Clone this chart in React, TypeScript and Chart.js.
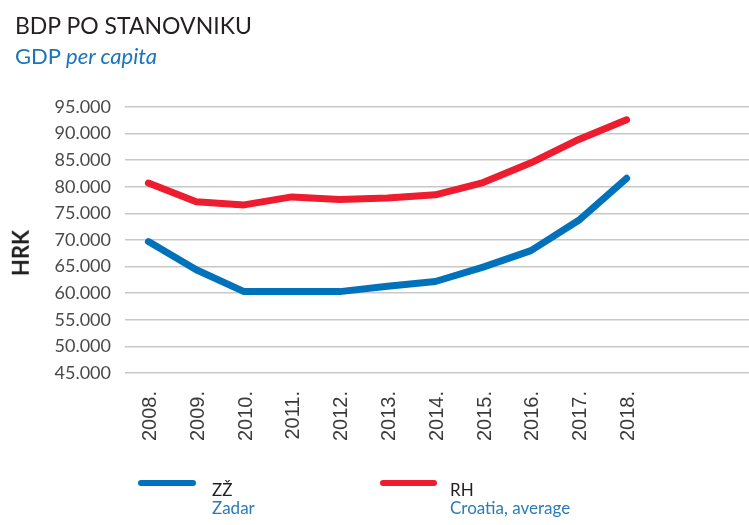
import React, { useEffect, useRef } from "react";
import { Chart, registerables } from "chart.js";

Chart.register(...registerables);

const years = ["2008", "2009", "2010", "2011", "2012", "2013", "2014", "2015", "2016", "2017", "2018"];
const zadar = [69700, 64400, 60300, 60300, 60300, 61300, 62200, 64900, 68000, 73700, 81600];
const croatia = [80700, 77200, 76600, 78100, 77600, 77900, 78500, 80800, 84500, 88900, 92600];
const yTickValues = [45000, 50000, 55000, 60000, 65000, 70000, 75000, 80000, 85000, 90000, 95000];

const BLUE = "#0072bc";
const RED = "#ed1c2e";

function fmt(v: number): string {
  return Math.round(v / 1000) + ".000";
}

export default function App() {
  const ref = useRef<HTMLCanvasElement | null>(null);

  useEffect(() => {
    if (!ref.current) return;
    const chart = new Chart(ref.current, {
      type: "line",
      data: {
        datasets: [
          {
            label: "RH",
            data: croatia.map((v, i) => ({ x: i, y: v })),
            borderColor: RED,
            borderWidth: 7,
            pointRadius: 0,
            tension: 0,
            borderCapStyle: "round",
            borderJoinStyle: "round",
            clip: false as any,
          },
          {
            label: "ZŽ",
            data: zadar.map((v, i) => ({ x: i, y: v })),
            borderColor: BLUE,
            borderWidth: 7,
            pointRadius: 0,
            tension: 0,
            borderCapStyle: "round",
            borderJoinStyle: "round",
            clip: false as any,
          },
        ],
      },
      options: {
        animation: false,
        responsive: false,
        maintainAspectRatio: false,
        layout: { padding: { top: 107, left: 0, right: 0, bottom: 0 } },
        plugins: { legend: { display: false }, tooltip: { enabled: false }, title: { display: false } },
        scales: {
          x: {
            type: "linear",
            min: -0.49,
            max: 12.56,
            grid: { display: false, drawTicks: false },
            border: { display: false },
            afterBuildTicks: (scale: any) => {
              scale.ticks = years.map((_, i) => ({ value: i }));
            },
            afterFit: (scale: any) => {
              scale.height = 525 - 373;
            },
            ticks: {
              autoSkip: false,
              minRotation: 90,
              maxRotation: 90,
              padding: 18,
              labelOffset: 2,
              color: "#3c3c3c",
              font: { family: "'Liberation Sans Narrow', 'Liberation Sans', Arial", size: 20 },
              callback: (v: any) => (years[v] !== undefined ? years[v] + "." : ""),
            },
          },
          y: {
            type: "linear",
            min: 45000,
            max: 95000,
            grid: { color: "#c8c8c8", lineWidth: 1.5, drawTicks: false },
            border: { display: false },
            afterBuildTicks: (scale: any) => {
              scale.ticks = yTickValues.map((v) => ({ value: v }));
            },
            afterFit: (scale: any) => {
              scale.width = 125;
            },
            ticks: {
              padding: 14,
              color: "#4a4a4a",
              font: { family: "Lato", size: 18 },
              callback: (v: any) => fmt(Number(v)),
            },
          },
        },
      },
    });
    return () => chart.destroy();
  }, []);

  const textBase: React.CSSProperties = {
    position: "absolute",
    fontFamily: "Lato, 'Open Sans', sans-serif",
    lineHeight: 1.2,
    whiteSpace: "nowrap",
    margin: 0,
  };

  return (
    <div style={{ position: "fixed", left: 0, top: 0, width: 749, height: 525, background: "#fff", overflow: "hidden" }}>
      <canvas ref={ref} width={749} height={525} style={{ position: "absolute", left: 0, top: 0, width: 749, height: 525 }} />
      <div style={{ ...textBase, left: 15, top: 12.3, fontSize: 23, color: "#231f20" }}>BDP PO STANOVNIKU</div>
      <div style={{ ...textBase, left: 15, top: 43.3, fontSize: 22, color: "#1b75bb" }}>
        GDP <i>per capita</i>
      </div>
      <div
        style={{
          ...textBase,
          left: 21,
          top: 253,
          fontSize: 22,
          fontWeight: 700,
          color: "#1e1e1e",
          transform: "translate(-50%, -50%) rotate(-90deg)",
        }}
      >
        HRK
      </div>
      <div style={{ position: "absolute", left: 138, top: 479.7, width: 58, height: 6, borderRadius: 3, background: BLUE }} />
      <div style={{ ...textBase, left: 212, top: 480.2, fontSize: 17, color: "#231f20" }}>ZŽ</div>
      <div style={{ ...textBase, left: 212, top: 498.2, fontSize: 17, color: "#2b7bb9" }}>Zadar</div>
      <div style={{ position: "absolute", left: 380, top: 479.7, width: 57, height: 6, borderRadius: 3, background: RED }} />
      <div style={{ ...textBase, left: 450, top: 480.2, fontSize: 17, color: "#231f20" }}>RH</div>
      <div style={{ ...textBase, left: 450, top: 498.2, fontSize: 17, color: "#2b7bb9" }}>Croatia, average</div>
    </div>
  );
}
